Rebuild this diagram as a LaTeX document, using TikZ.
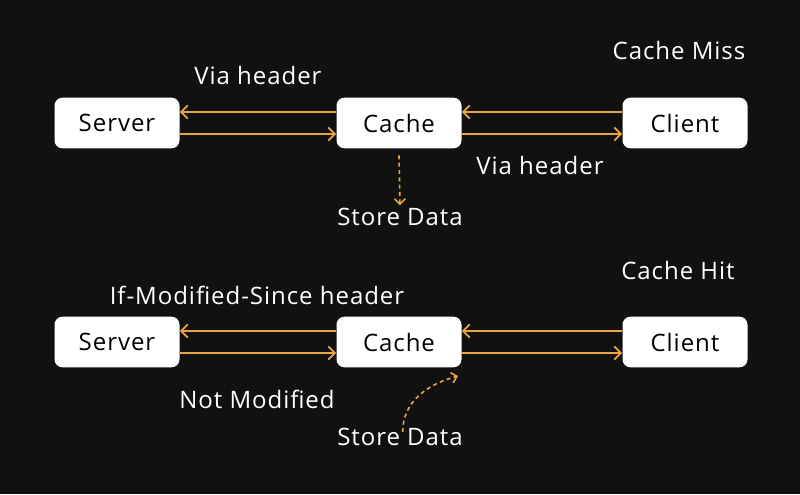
\documentclass[tikz,border=0pt]{standalone}
\usepackage{fontspec}
\setmainfont{Open Sans}[LetterSpace=4]
\usetikzlibrary{arrows.meta,positioning}
\definecolor{bgdark}{HTML}{111111}
\definecolor{flow}{HTML}{EBA441}
\tikzset{
  box/.style = {fill=white, rounded corners=6pt, minimum width=93.75pt,
                minimum height=38pt, inner sep=0pt, text=black},
  lbl/.style = {text=white, inner sep=1pt},
  link/.style = {flow, line width=1.4pt, -{Straight Barb[length=5pt,width=10pt]}},
  hint/.style = {flow, line width=1.2pt, dashed, dash pattern=on 3pt off 2.5pt,
                 -{Straight Barb[length=4pt,width=8pt]}}
}
\begin{document}
\begin{tikzpicture}[x=0.75pt, y=-0.75pt, font=\fontsize{18}{21}\selectfont]
  \fill[bgdark] (0,0) rectangle (800,494);
  \useasboundingbox (0,0) rectangle (800,494);

  % cache miss
  \node[box] (srvA)   at (117,123) {Server};
  \node[box] (cacheA) at (399,123) {Cache};
  \node[box] (cliA)   at (685,123) {Client};
  \node[lbl] (missA)  at (679,50)  {Cache Miss};
  \node[lbl] (viaA)   at (258,75)  {Via header};
  \node[lbl] (viaB)   at (540,165) {Via header};
  \node[lbl] (storeA) at (400,217) {Store Data};

  \draw[link] ([yshift=8.25pt]cacheA.west) -- ([yshift=8.25pt]srvA.east);
  \draw[link] ([yshift=-8.25pt]srvA.east) -- ([yshift=-8.25pt]cacheA.west);
  \draw[link] ([yshift=8.25pt]cliA.west) -- ([yshift=8.25pt]cacheA.east);
  \draw[link] ([yshift=-8.25pt]cacheA.east) -- ([yshift=-8.25pt]cliA.west);
  \draw[hint] ([yshift=-5pt]cacheA.south) -- ([yshift=1pt]storeA.north);

  % cache hit
  \node[box] (srvB)   at (117,342) {Server};
  \node[box] (cacheB) at (399,342) {Cache};
  \node[box] (cliB)   at (685,342) {Client};
  \node[lbl] (hitB)   at (678,270) {Cache Hit};
  \node[lbl] (imsB)   at (257,295) {If-Modified-Since header};
  \node[lbl] (notB)   at (257,399) {Not Modified};
  \node[lbl] (storeB) at (400,437) {Store Data};
  \coordinate (tipB) at (458,376);

  \draw[link] ([yshift=8.25pt]cacheB.west) -- ([yshift=8.25pt]srvB.east);
  \draw[link] ([yshift=-8.25pt]srvB.east) -- ([yshift=-8.25pt]cacheB.west);
  \draw[link] ([yshift=8.25pt]cliB.west) -- ([yshift=8.25pt]cacheB.east);
  \draw[link] ([yshift=-8.25pt]cacheB.east) -- ([yshift=-8.25pt]cliB.west);
  \draw[hint] ([xshift=2pt,yshift=-4pt]storeB.north) to[out=90,in=195] (tipB);
\end{tikzpicture}
\end{document}
